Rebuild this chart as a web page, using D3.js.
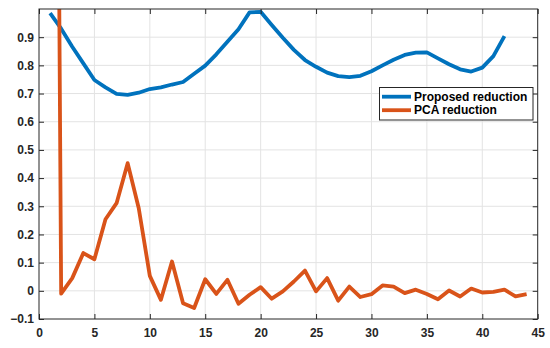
<!DOCTYPE html>
<html>
<head>
<meta charset="utf-8">
<script src="https://cdn.jsdelivr.net/npm/d3@7"></script>
<style>
html,body{margin:0;padding:0;background:#fff;}
svg{display:block;}
</style>
</head>
<body>
<svg id="chart" width="550" height="348"></svg>
<script>
const proposedX = d3.range(1, 43);
const proposedY = [0.985,0.93,0.866,0.807,0.748,0.722,0.699,0.695,0.703,0.716,
  0.722,0.732,0.741,0.77,0.799,0.839,0.884,0.928,0.988,0.99,
  0.943,0.898,0.855,0.819,0.795,0.774,0.762,0.758,0.763,0.779,
  0.80,0.82,0.837,0.845,0.846,0.825,0.804,0.786,0.778,0.792,
  0.833,0.904];
const pcaX = d3.range(1, 45);
const pcaY = [6.0,-0.01,0.045,0.134,0.112,0.254,0.311,0.453,0.293,0.053,
  -0.032,0.104,-0.044,-0.061,0.041,-0.011,0.039,-0.046,-0.014,0.013,
  -0.028,-0.002,0.033,0.072,-0.002,0.045,-0.035,0.015,-0.022,-0.012,
  0.019,0.015,-0.008,0.004,-0.011,-0.03,0.001,-0.02,0.008,-0.006,
  -0.004,0.004,-0.02,-0.012];
const xTicks = [0,5,10,15,20,25,30,35,40,45];
const yTicks = [-0.1,0,0.1,0.2,0.3,0.4,0.5,0.6,0.7,0.8,0.9];
const seriesNames = ["Proposed reduction","PCA reduction"];
const seriesColors = ["#0072BD","#D95319"];

const L = 39, R = 537.7, T = 9, B = 319;
const svg = d3.select("#chart");
const x = d3.scaleLinear().domain([0,45]).range([L,R]);
const y = d3.scaleLinear().domain([-0.1,1.0]).range([B,T]);
const axisColor = "#262626";
const font = "'Liberation Sans', Arial, Helvetica, sans-serif";

// grid
const grid = svg.append("g");
grid.selectAll(".gx").data(xTicks.slice(1,-1)).enter().append("line")
  .attr("x1", d=>x(d)).attr("x2", d=>x(d)).attr("y1", T).attr("y2", B)
  .attr("stroke", "#e3e3e3").attr("stroke-width", 1);
grid.selectAll(".gy").data(yTicks.slice(1)).enter().append("line")
  .attr("y1", d=>y(d)).attr("y2", d=>y(d)).attr("x1", L).attr("x2", R)
  .attr("stroke", "#e3e3e3").attr("stroke-width", 1);

// clip
svg.append("clipPath").attr("id","clip").append("rect")
  .attr("x", L).attr("y", T).attr("width", R-L).attr("height", B-T);

const line = d3.line().x(d=>x(d[0])).y(d=>y(d[1]));
const plot = svg.append("g").attr("clip-path","url(#clip)");
plot.append("path").datum(proposedX.map((v,i)=>[v,proposedY[i]]))
  .attr("d", line).attr("fill","none").attr("stroke", seriesColors[0])
  .attr("stroke-width", 3.8).attr("stroke-linejoin","round");
plot.append("path").datum(pcaX.map((v,i)=>[v,pcaY[i]]))
  .attr("d", line).attr("fill","none").attr("stroke", seriesColors[1])
  .attr("stroke-width", 3.8).attr("stroke-linejoin","round");

// axes
const tl = 5;
const xAxisB = d3.axisBottom(x).tickValues(xTicks).tickSize(-tl).tickPadding(8).tickFormat(d3.format("d"));
const xAxisT = d3.axisTop(x).tickValues(xTicks).tickSize(-tl).tickFormat("");
const yAxisL = d3.axisLeft(y).tickValues(yTicks).tickSize(-tl).tickPadding(8).tickFormat(d=> d===0 ? "0" : d3.format(".1f")(d));
const yAxisR = d3.axisRight(y).tickValues(yTicks).tickSize(-tl).tickFormat("");

function styleAxis(g){
  g.select(".domain").remove();
  g.selectAll(".tick line").attr("stroke", axisColor).attr("stroke-width",1);
  g.selectAll(".tick text").attr("fill", axisColor).style("font-family", font)
    .style("font-size","12px").style("font-weight","bold");
}
svg.append("g").attr("transform",`translate(0,${B})`).call(xAxisB).call(styleAxis)
  .selectAll(".tick text").attr("dy","0.71em").attr("y", 9);
svg.append("g").attr("transform",`translate(0,${T})`).call(xAxisT).call(styleAxis);
svg.append("g").attr("transform",`translate(${L},0)`).call(yAxisL).call(styleAxis)
  .selectAll(".tick text").attr("x", -5);
svg.append("g").attr("transform",`translate(${R},0)`).call(yAxisR).call(styleAxis);

// box: left & bottom dark, top/right too
svg.append("rect").attr("x", L).attr("y", T).attr("width", R-L).attr("height", B-T)
  .attr("fill","none").attr("stroke", axisColor).attr("stroke-width", 1);

// legend
const lg = svg.append("g");
lg.append("rect").attr("x", 379.5).attr("y", 87.5).attr("width", 153.5).attr("height", 32.5)
  .attr("fill","#fff").attr("stroke", axisColor).attr("stroke-width", 1);
seriesNames.forEach((n,i)=>{
  const yy = 96.7 + i*13.5;
  lg.append("line").attr("x1", 382).attr("x2", 411).attr("y1", yy).attr("y2", yy)
    .attr("stroke", seriesColors[i]).attr("stroke-width", 3.8);
  lg.append("text").attr("x", 414).attr("y", yy).attr("dy","0.35em")
    .attr("fill","#000").style("font-family", font).style("font-size","12px")
    .style("font-weight","bold").text(n);
});
</script>
</body>
</html>
